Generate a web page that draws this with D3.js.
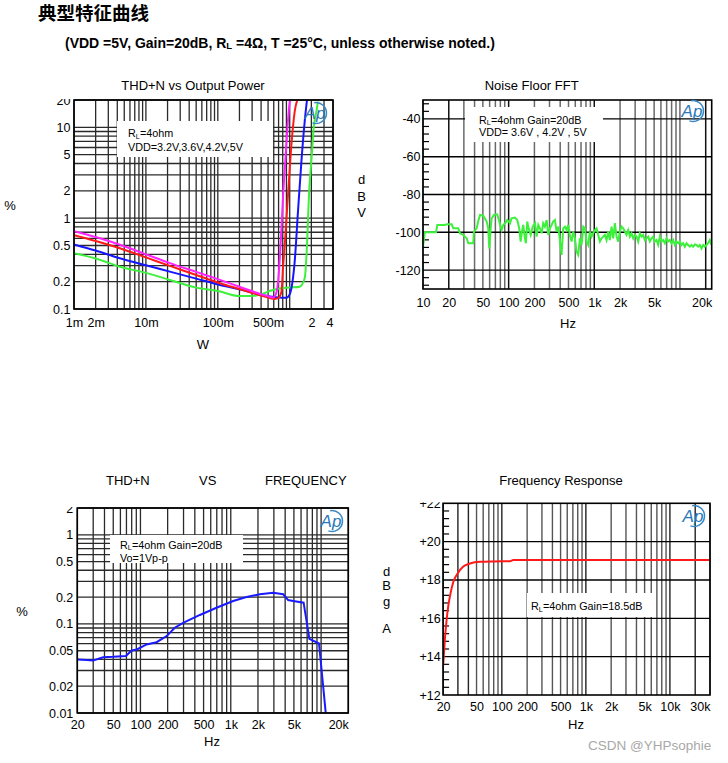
<!DOCTYPE html>
<html><head><meta charset="utf-8">
<script src="https://cdn.jsdelivr.net/npm/d3@7"></script>
<style>body{margin:0;background:#fff}</style>
</head><body><svg id="c" width="728" height="763" style="background:#fff"></svg>
<script>
// ---------------- DATA ----------------
const mainTitle = "典型特征曲线";
const subTitleA = "(VDD =5V, Gain=20dB, R";
const subTitleB = " =4Ω, T =25°C, unless otherwise noted.)";

// THD+N vs Output Power  [W, %]
const thdPwr32 = [[0.001,0.72],[0.002,0.62],[0.00435,0.51],[0.01,0.40],[0.0215,0.32],[0.05,0.256],[0.107,0.209],[0.2,0.176],[0.426,0.143],[0.5,0.138],[0.586,0.134],[0.64,0.145],[0.689,0.2],[0.74,0.45],[0.767,0.77],[0.81,1.8],[0.868,4.2],[0.93,9.8],[1.0,19.2],[1.02,21]];
const thdPwr36 = [[0.001,0.65],[0.002,0.56],[0.00435,0.466],[0.01,0.37],[0.0215,0.298],[0.05,0.237],[0.107,0.192],[0.2,0.166],[0.426,0.139],[0.619,0.129],[0.7,0.133],[0.767,0.155],[0.81,0.3],[0.853,0.507],[0.947,1.8],[1.056,6.4],[1.173,14.9],[1.3,21]];
const thdPwr42 = [[0.001,0.515],[0.002,0.44],[0.00435,0.362],[0.01,0.303],[0.0215,0.258],[0.05,0.216],[0.107,0.184],[0.2,0.165],[0.426,0.142],[0.65,0.135],[0.9,0.133],[1.0,0.145],[1.056,0.169],[1.173,0.332],[1.303,1.18],[1.454,4.19],[1.616,11.6],[1.75,21]];
const thdPwr50 = [[0.001,0.41],[0.002,0.36],[0.00435,0.292],[0.01,0.25],[0.0215,0.209],[0.05,0.172],[0.1,0.158],[0.2,0.139],[0.3,0.139],[0.4,0.145],[0.526,0.158],[0.726,0.168],[1.0,0.172],[1.377,0.176],[1.616,0.218],[1.74,0.507],[1.853,1.8],[2.0,4.19],[2.154,9.85],[2.35,14.9],[2.47,19.2]];
const pwrTickVals = [0.001,0.002,0.01,0.1,0.5,2,4];
const pwrTickText = ["1m","2m","10m","100m","500m","2","4"];
const pctTickVals1 = [20,10,5,2,1,0.5,0.2,0.1];
const pctTickText1 = ["20","10","5","2","1","0.5","0.2","0.1"];

// Noise Floor FFT  [Hz, dBV]
const noiseFFT = [[10,-107.6],[10.5,-100],[14.2,-100],[14.7,-96.1],[18.1,-96.1],[19,-95.8],[21.6,-95.8],[22.6,-97.9],[25.8,-97.9],[27,-100.5],
[29.5,-101.4],[32.4,-103.2],[33.8,-105.8],[38.6,-105.8],[39.4,-99.6],[42.3,-97.9],[44.2,-94.0],[46.3,-90.8],[50.5,-91.2],[55.4,-94.3],
[57.8,-97.9],[59.4,-108.5],[61.7,-97.9],[63.3,-92.6],[67.4,-90.8],[73.6,-90.5],[77.7,-94.3],[82.8,-98.8],[86.5,-96.1],[93,-94.7],
[96.3,-93.5],[104,-95.2],[108,-92.6],[118,-92.2],[126,-93.5],[133,-97.9],[138,-104.9],[143,-99.6],[148,-96.1],[155,-103.2],
[159,-105.8],[165,-94.3],[171,-97.9],[181,-101.4],[191,-97.0],[203,-95.2],[212,-102.3],[222,-96.1],[232,-97.9],[243,-100.5],
[253,-95.2],[265,-97.0],[278,-93.5],[290,-101.4],[303,-97.9],[318,-96.1],[331,-94.3],[347,-93.5],[363,-99.6],[379,-97.0],
[397,-104.1],[415,-112.0],[434,-97.9],[454,-97.0],[475,-98.8],[497,-96.1],[519,-101.4],[543,-104.9],[568,-99.6],[594,-103.2],
[621,-110.2],[650,-112.0],[679,-103.2],[711,-106.7],[743,-97.0],[777,-97.9],[813,-104.9],[850,-106.7],[889,-99.6],[930,-102.3],
[972,-100.5],[1017,-98.8],[1063,-97.9],[1112,-101.4],[1163,-104.9],[1216,-103.2],[1272,-102.3],[1330,-101.4],[1391,-104.1],[1455,-99.6],
[1521,-104.1],[1591,-97.0],[1664,-103.2],[1740,-95.2],[1820,-102.3],[1903,-104.9],[1990,-99.6],[2081,-97.0],[2177,-97.9],[2276,-99.6],
[2381,-101.4],[2490,-98.8],[2604,-102.3],[2723,-100.5],[2848,-103.2],[2978,-101.4],[3114,-102.3],[3257,-104.9],[3406,-100.5],[3562,-102.3],
[3725,-101.4],[3896,-104.1],[4074,-103.2],[4261,-102.3],[4456,-104.9],[4660,-103.2],[4873,-102.3],[5096,-104.9],[5330,-104.1],[5574,-106.7],
[5829,-102.3],[6096,-104.9],[6375,-104.1],[6667,-105.8],[6972,-103.2],[7291,-104.9],[7625,-104.1],[7974,-105.8],[8339,-104.1],[8721,-106.7],
[9120,-104.9],[9538,-105.8],[9975,-104.9],[10432,-106.7],[10910,-105.8],[11409,-107.6],[11932,-105.8],[12478,-106.7],[13050,-107.6],[13647,-106.7],
[14272,-107.6],[14926,-106.4],[15609,-106.7],[16324,-107.6],[17072,-106.7],[17853,-108.5],[18671,-106.7],[19526,-107.6],[20420,-106.7],[21355,-105.8],
[22333,-104.1],[23356,-106.7]];
const fftTickVals = [10,20,50,100,200,500,1000,2000,5000,20000];
const fftTickText = ["10","20","50","100","200","500","1k","2k","5k","20k"];
const dbvTickVals = [-40,-60,-80,-100,-120];

// THD+N vs Frequency  [Hz, %]
const thdFreqHz  = [20,25.4,30,38.7,50,69,80,91.3,117,151,195,240,297,455,695,1063,1493,2096,2945,3803,4317,4900,6400,7417,9480,11500];
const thdFreqPct = [0.0398,0.0394,0.0389,0.0423,0.0427,0.0436,0.0503,0.0516,0.0588,0.0623,0.073,0.0906,0.103,0.126,0.152,0.181,0.2,0.215,0.224,0.215,0.185,0.181,0.173,0.068,0.0603,0.008];
const hzTickVals3 = [20,50,100,200,500,1000,2000,5000,20000];
const hzTickText3 = ["20","50","100","200","500","1k","2k","5k","20k"];
const pctTickVals3 = [2,1,0.5,0.2,0.1,0.05,0.02,0.01];
const pctTickText3 = ["2","1","0.5","0.2","0.1","0.05","0.02","0.01"];

// Frequency Response  [Hz, dB]
const frHz = [20,20.5,21,22,23.1,24.5,26.4,30.3,34.8,41.8,55,80,125,137,30000];
const frDb = [13.5,14.2,14.9,15.9,16.67,17.3,17.88,18.39,18.7,18.86,18.95,18.97,18.98,19.04,19.04];
const frTickVals = [20,50,100,200,500,1000,2000,5000,10000,30000];
const frTickText = ["20","50","100","200","500","1k","2k","5k","10k","30k"];
const dbTickVals = [22,20,18,16,14,12];
const dbTickText = ["+22","+20","+18","+16","+14","+12"];

// ---------------- DRAW ----------------
const FONT = '"Liberation Sans", Arial, Helvetica, sans-serif';
const svg = d3.select("#c");
const defs = svg.append("defs");
let clipId = 0;
function clipRect(x0,y0,w,h){ const id="cp"+(clipId++); defs.append("clipPath").attr("id",id).append("rect").attr("x",x0).attr("y",y0).attr("width",w).attr("height",h); return "url(#"+id+")"; }

function txt(x,y,s,size,opts={}){
  const t = svg.append("text").attr("x",x).attr("y",y).attr("font-family",opts.family||FONT).attr("font-size",size)
    .attr("fill",opts.fill||"#000").attr("text-anchor",opts.anchor||"start").text(s);
  if(opts.bold) t.attr("font-weight","bold");
  return t;
}
function rlText(x,y,rest,size){
  const t = svg.append("text").attr("x",x).attr("y",y).attr("font-family",FONT).attr("font-size",size).attr("fill","#000");
  t.append("tspan").text("R");
  t.append("tspan").attr("font-size",size*0.68).attr("dy",1.5).text("L");
  t.append("tspan").attr("dy",-1.5).text(rest);
  return t;
}
function vgrid(x,y,vals,colorFn,w){
  svg.append("g").selectAll("line").data(vals).join("line")
    .attr("x1",d=>x(d)).attr("x2",d=>x(d)).attr("y1",y.range()[0]).attr("y2",y.range()[1])
    .attr("stroke",colorFn).attr("stroke-width",w);
}
function hgrid(x,y,vals,colorFn,w){
  svg.append("g").selectAll("line").data(vals).join("line")
    .attr("y1",d=>y(d)).attr("y2",d=>y(d)).attr("x1",x.range()[0]).attr("x2",x.range()[1])
    .attr("stroke",colorFn).attr("stroke-width",w);
}
function frame(x,y){
  svg.append("rect").attr("x",x.range()[0]).attr("y",y.range()[1])
    .attr("width",x.range()[1]-x.range()[0]).attr("height",y.range()[0]-y.range()[1])
    .attr("fill","none").attr("stroke","#000").attr("stroke-width",1.6);
}
function whiteBox(x0,y0,x1,y1){ svg.append("rect").attr("x",x0).attr("y",y0).attr("width",x1-x0).attr("height",y1-y0).attr("fill","#fff"); }
function xAxis(x,y,vals,labels,pad){
  const g = svg.append("g").attr("transform",`translate(0,${y.range()[0]})`)
    .call(d3.axisBottom(x).tickValues(vals).tickFormat((d,i)=>labels[i]).tickSize(0).tickPadding(pad));
  g.select(".domain").remove();
  g.selectAll("text").attr("font-family",FONT).attr("font-size",12.5).attr("fill","#000");
  const xr = x.range()[1];
  g.selectAll(".tick text").each(function(d){
    const w = this.getComputedTextLength();
    const tx = x(d);
    if (tx + w/2 > xr) d3.select(this).attr("x", xr - w/2 - tx);
  });
}
function yAxis(x,y,vals,labels,pad){
  const x0 = x.range()[0];
  const g = svg.append("g").attr("transform",`translate(${x0},0)`)
    .attr("clip-path", clipRect(-x0,y.range()[1]-1,x0,y.range()[0]-y.range()[1]+30))
    .call(d3.axisLeft(y).tickValues(vals).tickFormat((d,i)=>labels[i]).tickSize(0).tickPadding(pad));
  g.select(".domain").remove();
  g.selectAll("text").attr("font-family",FONT).attr("font-size",12.5).attr("fill","#000");
}
function minorTicks(x,y,vals){
  svg.append("g").selectAll("line").data(vals).join("line")
    .attr("x1",x.range()[0]).attr("x2",x.range()[0]+6).attr("y1",d=>y(d)).attr("y2",d=>y(d))
    .attr("stroke","#000").attr("stroke-width",1.2);
}
function apLogo(cx,cy){
  const r=10.5, a0=-100*Math.PI/180, a1=110*Math.PI/180;
  svg.append("path").attr("d",`M${cx+r*Math.cos(a0)},${cy+r*Math.sin(a0)} A${r},${r} 0 1 1 ${cx+r*Math.cos(a1)},${cy+r*Math.sin(a1)}`)
    .attr("fill","none").attr("stroke","#3a88c6").attr("stroke-width",1.5);
  svg.append("text").attr("x",cx-1).attr("y",cy+6).attr("text-anchor","middle").attr("font-family",FONT)
    .attr("font-style","italic").attr("font-size",17).attr("fill","#2b78b8").text("Ap");
}

// Titles
txt(38,20,mainTitle,18.5,{family:'"Noto Sans CJK SC", sans-serif',bold:true});
{
  const t = svg.append("text").attr("x",65).attr("y",48).attr("font-family",FONT).attr("font-size",14).attr("font-weight","bold");
  t.append("tspan").text(subTitleA);
  t.append("tspan").attr("font-size",9.5).attr("dy",1).text("L");
  t.append("tspan").attr("dy",-1).text(subTitleB);
}

// ---- Panel 1: THD+N vs Output Power ----
{
  const x = d3.scaleLog().domain([0.001,4]).range([74,333]);
  const y = d3.scaleLog().domain([0.1,20]).range([309,100]);
  vgrid(x,y,x.ticks(),"#2a2a2a",1.3);
  hgrid(x,y,y.ticks(),"#2a2a2a",1.3);
  whiteBox(117,121,273,157);
  rlText(128,137,"=4ohm",10.8);
  txt(128,151,"VDD=3.2V,3.6V,4.2V,5V",10.8);
  const line = d3.line().x(d=>x(d[0])).y(d=>y(d[1])).curve(d3.curveMonotoneX);
  const cp = clipRect(74,100,259,209);
  const series = [[thdPwr50,"#3cf03c"],[thdPwr42,"#1515ff"],[thdPwr36,"#ff1a1a"],[thdPwr32,"#ff22ff"]];
  series.forEach(([d,c])=>svg.append("path").attr("clip-path",cp).attr("d",line(d)).attr("fill","none").attr("stroke",c).attr("stroke-width",2));
  frame(x,y);
  apLogo(316,113);
  xAxis(x,y,pwrTickVals,pwrTickText,9.5);
  yAxis(x,y,pctTickVals1,pctTickText1,3.5);
  txt(193,89.5,"THD+N vs Output Power",13,{anchor:"middle"});
  txt(10,209.5,"%",13,{anchor:"middle"});
  txt(203,349,"W",13,{anchor:"middle"});
}

// ---- Panel 2: Noise Floor FFT ----
{
  const x = d3.scaleLog().domain([10,23500]).range([423,711.7]);
  const y = d3.scaleLinear().domain([-130,-30]).range([289,100]);
  const vcol = d=> (d===20||d===100||d===1000||d===20000) ? "#111" : "#6a6a6a";
  vgrid(x,y,x.ticks(),vcol,1.5);
  hgrid(x,y,dbvTickVals,"#000",1.4);
  minorTicks(x,y,d3.range(-128,-30,4).filter(v=>(v+40)%20!==0));
  whiteBox(465,107,603,142);
  rlText(479,123.5,"=4ohm Gain=20dB",10.8);
  txt(479,136,"VDD= 3.6V , 4.2V , 5V",10.8);
  const line = d3.line().x(d=>x(d[0])).y(d=>y(d[1]));
  svg.append("path").attr("clip-path",clipRect(423,100,288.7,189)).attr("d",line(noiseFFT))
    .attr("fill","none").attr("stroke","#3cf03c").attr("stroke-width",2);
  frame(x,y);
  apLogo(693,111);
  xAxis(x,y,fftTickVals,fftTickText,9);
  yAxis(x,y,dbvTickVals,dbvTickVals.map(String),2.5);
  txt(531.7,89.5,"Noise Floor FFT",13,{anchor:"middle"});
  txt(361.7,183.5,"d",13,{anchor:"middle"});
  txt(361.7,200.5,"B",13,{anchor:"middle"});
  txt(361.7,216.5,"V",13,{anchor:"middle"});
  txt(568,328,"Hz",13,{anchor:"middle"});
}

// ---- Panel 3: THD+N vs Frequency ----
{
  const x = d3.scaleLog().domain([20,20000]).range([77.3,348.3]);
  const y = d3.scaleLog().domain([0.01,2]).range([713,508]);
  vgrid(x,y,x.ticks(),"#2a2a2a",1.3);
  hgrid(x,y,y.ticks(),"#2a2a2a",1.3);
  whiteBox(110,535,243,563);
  rlText(120,548.5,"=4ohm Gain=20dB",10.8);
  txt(120,562,"Vo=1Vp-p",10.8);
  const pts = thdFreqHz.map((f,i)=>[f,thdFreqPct[i]]);
  const line = d3.line().x(d=>x(d[0])).y(d=>y(d[1]));
  svg.append("path").attr("clip-path",clipRect(77.3,508,271,205)).attr("d",line(pts))
    .attr("fill","none").attr("stroke","#1a1aff").attr("stroke-width",2);
  frame(x,y);
  apLogo(332,521);
  xAxis(x,y,hzTickVals3,hzTickText3,7.5);
  yAxis(x,y,pctTickVals3,pctTickText3,4);
  txt(106,484.5,"THD+N",13);
  txt(199,484.5,"VS",13);
  txt(265,484.5,"FREQUENCY",13);
  txt(22,616,"%",13,{anchor:"middle"});
  txt(212,746,"Hz",13,{anchor:"middle"});
}

// ---- Panel 4: Frequency Response ----
{
  const x = d3.scaleLog().domain([20,30000]).range([443.1,710]);
  const y = d3.scaleLinear().domain([12,22]).range([695,503.3]);
  const vcol = d=> ([30,40,100,1000,10000,20000].includes(d)) ? "#222" : "#555";
  vgrid(x,y,x.ticks(),vcol,1.4);
  hgrid(x,y,[14,16,18,20],"#000",1.3);
  minorTicks(x,y,d3.range(12.4,22,0.4).filter(v=>Math.abs(v/2-Math.round(v/2))>0.05));
  whiteBox(527,593,653,617);
  rlText(531,610,"=4ohm Gain=18.5dB",10.8);
  const pts = frHz.map((f,i)=>[f,frDb[i]]);
  const line = d3.line().x(d=>x(d[0])).y(d=>y(d[1])).curve(d3.curveMonotoneX);
  svg.append("path").attr("clip-path",clipRect(443.1,503.3,266.9,191.7)).attr("d",line(pts))
    .attr("fill","none").attr("stroke","#ff1a1a").attr("stroke-width",2);
  frame(x,y);
  apLogo(694,516);
  xAxis(x,y,frTickVals,frTickText,7);
  yAxis(x,y,dbTickVals,dbTickText,2.5);
  txt(561,485,"Frequency Response",13,{anchor:"middle"});
  txt(386.7,576,"d",13,{anchor:"middle"});
  txt(386.7,590,"B",13,{anchor:"middle"});
  txt(386.7,605.5,"g",13,{anchor:"middle"});
  txt(386.7,632.5,"A",13,{anchor:"middle"});
  txt(576,728.5,"Hz",13,{anchor:"middle"});
}

txt(588,750,"CSDN @YHPsophie",13.5,{fill:"#a8a8a8"});
</script></body></html>
